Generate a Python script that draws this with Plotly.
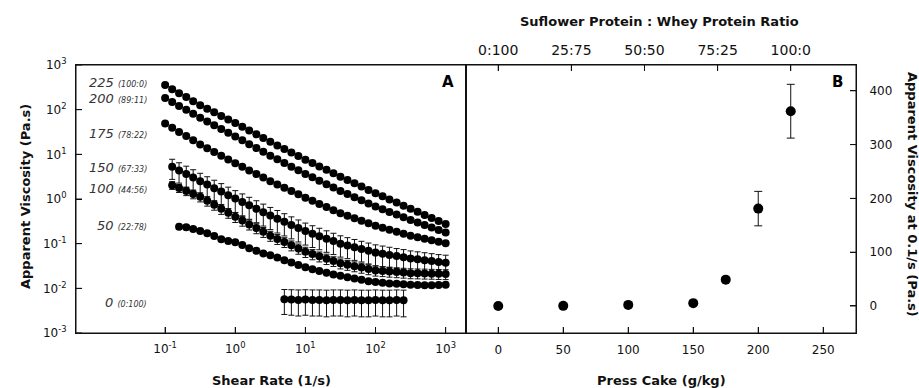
import plotly.graph_objects as go

# ---------------- data ----------------
shear_rate = [0.1, 0.126, 0.158, 0.2, 0.251, 0.316, 0.398, 0.501, 0.631, 0.794,
              1, 1.26, 1.58, 2, 2.51, 3.16, 3.98, 5.01, 6.31, 7.94,
              10, 12.6, 15.8, 20, 25.1, 31.6, 39.8, 50.1, 63.1, 79.4,
              100, 126, 158, 200, 251, 316, 398, 501, 631, 794, 1000]

visc_225 = [355, 288, 234, 191, 155, 126, 105, 87.1, 72.4, 60.3,
            50.1, 41.3, 34.0, 28.1, 23.1, 19.1, 15.8, 13.2, 11.0, 9.12,
            7.59, 6.37, 5.35, 4.49, 3.77, 3.16, 2.67, 2.25, 1.90, 1.60,
            1.35, 1.15, 0.977, 0.832, 0.708, 0.603, 0.515, 0.441, 0.377, 0.322, 0.275]
err_225 = [40, 32, 26, 21, 17, 14, 11, 9, 7.5, 6,
           5, 4.1, 3.4, 2.8, 2.3, 1.9, 1.6, 1.3, 1.1, 0.9,
           0.75, 0.64, 0.53, 0.45, 0.38, 0.32, 0.27, 0.22, 0.19, 0.16,
           0.13, 0.11, 0.1, 0.083, 0.071, 0.06, 0.051, 0.044, 0.038, 0.032, 0.028]

visc_200 = [182, 149, 121, 99.1, 80.9, 66.1, 54.5, 44.9, 37.0, 30.5,
            25.1, 20.6, 16.9, 13.9, 11.4, 9.33, 7.73, 6.40, 5.30, 4.39,
            3.63, 3.05, 2.56, 2.15, 1.80, 1.51, 1.29, 1.10, 0.933, 0.794,
            0.676, 0.589, 0.513, 0.447, 0.389, 0.339, 0.298, 0.262, 0.230, 0.202, 0.178]
err_200 = [18, 15, 12, 10, 8, 6.6, 5.4, 4.5, 3.7, 3.0,
           2.5, 2.1, 1.7, 1.4, 1.1, 0.93, 0.77, 0.64, 0.53, 0.44,
           0.36, 0.3, 0.26, 0.21, 0.18, 0.15, 0.13, 0.11, 0.093, 0.079,
           0.068, 0.059, 0.051, 0.045, 0.039, 0.034, 0.03, 0.026, 0.023, 0.02, 0.018]

visc_175 = [49.0, 39.4, 31.8, 25.6, 20.6, 16.6, 13.7, 11.3, 9.29, 7.66,
            6.31, 5.25, 4.37, 3.63, 3.02, 2.51, 2.12, 1.79, 1.51, 1.27,
            1.07, 0.912, 0.776, 0.661, 0.562, 0.479, 0.421, 0.370, 0.325, 0.286,
            0.251, 0.227, 0.205, 0.185, 0.167, 0.151, 0.140, 0.129, 0.120, 0.111, 0.102]

# starts at the 2nd shear rate
visc_150 = [5.25, 4.37, 3.63, 3.02, 2.51, 2.10, 1.75, 1.47, 1.22,
            1.02, 0.859, 0.721, 0.605, 0.508, 0.427, 0.363, 0.309, 0.263, 0.224,
            0.191, 0.167, 0.147, 0.129, 0.114, 0.100, 0.0912, 0.0832, 0.0759, 0.0692,
            0.0631, 0.0594, 0.0560, 0.0527, 0.0497, 0.0468, 0.0447, 0.0427, 0.0407, 0.0389, 0.0372]
err_150 = [2.5, 2.1, 1.8, 1.5, 1.25, 1.05, 0.88, 0.74, 0.62,
           0.52, 0.44, 0.37, 0.31, 0.26, 0.22, 0.19, 0.16, 0.135, 0.115,
           0.098, 0.085, 0.074, 0.065, 0.057, 0.050, 0.045, 0.041, 0.037, 0.034,
           0.031, 0.029, 0.027, 0.025, 0.024, 0.022, 0.021, 0.020, 0.019, 0.018, 0.018]

# starts at the 2nd shear rate
visc_100 = [2.04, 1.76, 1.51, 1.30, 1.12, 0.912, 0.741, 0.603, 0.490,
            0.398, 0.328, 0.270, 0.223, 0.184, 0.151, 0.128, 0.109, 0.0920, 0.0780,
            0.0661, 0.0586, 0.0520, 0.0461, 0.0409, 0.0363, 0.0337, 0.0313, 0.0291, 0.0270,
            0.0251, 0.0244, 0.0238, 0.0231, 0.0225, 0.0219, 0.0217, 0.0215, 0.0213, 0.0211, 0.0209]
err_100 = [0.40, 0.36, 0.32, 0.29, 0.26, 0.22, 0.18, 0.15, 0.12,
           0.10, 0.082, 0.068, 0.056, 0.046, 0.038, 0.032, 0.027, 0.023, 0.020,
           0.017, 0.015, 0.013, 0.012, 0.010, 0.0091, 0.0084, 0.0078, 0.0073, 0.0068,
           0.0063, 0.0061, 0.0060, 0.0058, 0.0056, 0.0055, 0.0054, 0.0054, 0.0053, 0.0053, 0.0052]

# starts at the 3rd shear rate
visc_50 = [0.240, 0.234, 0.214, 0.191, 0.170, 0.148, 0.126, 0.115,
           0.107, 0.0933, 0.0794, 0.0692, 0.0603, 0.0550, 0.0490, 0.0427, 0.0380, 0.0331,
           0.0295, 0.0269, 0.0245, 0.0224, 0.0204, 0.0191, 0.0178, 0.0166, 0.0155, 0.0145,
           0.0138, 0.0133, 0.0129, 0.0126, 0.0123, 0.0120, 0.0119, 0.0117, 0.0117, 0.0119, 0.0120]
err_50 = [0.030, 0.028, 0.022, 0.016, 0.010, 0.008, 0.006, 0.005,
          0.005, 0.004, 0.004, 0.003, 0.003, 0.003, 0.002, 0.002, 0.002, 0.002,
          0.002, 0.002, 0.001, 0.001, 0.001, 0.001, 0.001, 0.001, 0.001, 0.001,
          0.001, 0.001, 0.001, 0.001, 0.001, 0.001, 0.001, 0.001, 0.001, 0.001, 0.001]

# shear rates 5.01 .. 251
visc_0 = [0.0057, 0.0056, 0.0055, 0.0056, 0.0055, 0.0055, 0.0054, 0.0055, 0.0055,
          0.0054, 0.0055, 0.0054, 0.0054, 0.0055, 0.0054, 0.0054, 0.0055, 0.0054]
err_0_plus = [0.0037] * 18
err_0_minus = [0.0031] * 18

press_cake = [0, 50, 100, 150, 175, 200, 225]
visc_at_01 = [0.0, 0.25, 2.0, 5.3, 49, 181, 362]
err_at_01 = [0.0, 0.05, 0.5, 2.5, 4, 32, 50]

ratio_ticks = [0, 25, 50, 75, 100]
ratio_labels = ["0:100", "25:75", "50:50", "75:25", "100:0"]
cake_ticks = [0, 50, 100, 150, 200, 250]
visc01_ticks = [0, 100, 200, 300, 400]
log_x_ticks = [0.1, 1, 10, 100, 1000]
log_x_labels = ["10<sup>-1</sup>", "10<sup>0</sup>", "10<sup>1</sup>", "10<sup>2</sup>", "10<sup>3</sup>"]
log_y_ticks = [0.001, 0.01, 0.1, 1, 10, 100, 1000]
log_y_labels = ["10<sup>-3</sup>", "10<sup>-2</sup>", "10<sup>-1</sup>", "10<sup>0</sup>",
                "10<sup>1</sup>", "10<sup>2</sup>", "10<sup>3</sup>"]
series_cake = ["225", "200", "175", "150", "100", "50", "0"]
series_ratio = ["(100:0)", "(89:11)", "(78:22)", "(67:33)", "(44:56)", "(22:78)", "(0:100)"]

# ---------------- figure ----------------
FONT = "DejaVu Sans"
INK = "#111111"
TICK = 6
fig = go.Figure()

def add_left(x, y, err=None, errm=None):
    ey = dict(visible=False)
    if err is not None:
        ey = dict(type="data", array=err, color=INK, thickness=1, width=3, visible=True)
        if errm is not None:
            ey["arrayminus"] = errm
            ey["symmetric"] = False
    fig.add_trace(go.Scatter(x=x, y=y, mode="markers", xaxis="x", yaxis="y",
                             marker=dict(color="black", size=8, line=dict(width=0)),
                             error_y=ey, showlegend=False, hoverinfo="skip"))

add_left(shear_rate, visc_225, err_225)
add_left(shear_rate, visc_200, err_200)
add_left(shear_rate, visc_175)
add_left(shear_rate[1:], visc_150, err_150)
add_left(shear_rate[1:], visc_100, err_100)
add_left(shear_rate[2:], visc_50, err_50)
add_left(shear_rate[17:35], visc_0, err_0_plus, err_0_minus)

fig.add_trace(go.Scatter(x=press_cake, y=visc_at_01, mode="markers", xaxis="x2", yaxis="y2",
                         marker=dict(color="black", size=10, line=dict(width=0)),
                         error_y=dict(type="data", array=err_at_01, color=INK, thickness=1, width=4),
                         showlegend=False, hoverinfo="skip"))
# carrier for the top (ratio) axis: no visible marks
fig.add_trace(go.Scatter(x=ratio_ticks, y=[None] * len(ratio_ticks), mode="markers",
                         xaxis="x3", yaxis="y2", showlegend=False, hoverinfo="skip"))

L, M, R = 76 / 919, 466 / 919, 856 / 919
YB, YT = 1 - 333 / 388, 1 - 65 / 388
tickfont = dict(family=FONT, size=12, color=INK)
axis_common = dict(showline=True, linecolor=INK, linewidth=1, ticks="inside", ticklen=TICK,
                   tickcolor=INK, tickwidth=1, showgrid=False, zeroline=False, tickfont=tickfont,
                   layer="above traces")

fig.update_layout(
    width=919, height=388,
    margin=dict(l=0, r=0, t=0, b=0, autoexpand=False),
    paper_bgcolor="white", plot_bgcolor="rgba(0,0,0,0)",
    xaxis=dict(domain=[L, M], anchor="y", type="log", range=[-2.271, 3.29], mirror=True,
               tickvals=log_x_ticks, ticktext=log_x_labels, ticklabelstandoff=5, **axis_common),
    yaxis=dict(domain=[YB, YT], anchor="x", type="log", range=[-3, 3], mirror=True,
               tickvals=log_y_ticks, ticktext=log_y_labels, ticklabelstandoff=6, **axis_common),
    xaxis2=dict(domain=[M, R], anchor="y2", range=[-24.8, 275.2], mirror=True,
                tickvals=cake_ticks, ticklabelstandoff=6, **axis_common),
    yaxis2=dict(domain=[YB, YT], anchor="x2", side="right", range=[-50.2, 447.9], mirror=True,
                tickvals=visc01_ticks, ticklabelstandoff=10, **axis_common),
    xaxis3=dict(overlaying="x2", anchor="y2", side="top", range=[-11.02, 122.31],
                tickvals=ratio_ticks, ticktext=ratio_labels, ticklabelstandoff=6,
                showline=False, ticks="inside", ticklen=TICK, tickcolor=INK, tickwidth=1,
                showgrid=False, zeroline=False, layer="above traces",
                tickfont=dict(family=FONT, size=14, color=INK)),
)

# panel frames
for xr, yr in (("x domain", "y domain"), ("x2 domain", "y2 domain")):
    fig.add_shape(type="rect", xref=xr, yref=yr, x0=0, x1=1, y0=0, y1=1,
                  line=dict(color=INK, width=1), fillcolor="rgba(0,0,0,0)", layer="above")

# inward tick marks, placed at the axes' own tick values
tick_line = dict(color=INK, width=1)
def x_ticks(vals, xref, yref, at_top=False):
    for v in vals:
        fig.add_shape(type="line", xref=xref, yref=yref, x0=v, x1=v,
                      ysizemode="pixel", yanchor=1 if at_top else 0,
                      y0=0, y1=-TICK if at_top else TICK, line=tick_line, layer="above")

def y_ticks(vals, xref, yref, at_right=False):
    for v in vals:
        fig.add_shape(type="line", xref=xref, yref=yref, y0=v, y1=v,
                      xsizemode="pixel", xanchor=1 if at_right else 0,
                      x0=0, x1=-TICK if at_right else TICK, line=tick_line, layer="above")

x_ticks(log_x_ticks, "x", "y domain")
y_ticks(log_y_ticks, "x domain", "y")
x_ticks(cake_ticks, "x2", "y2 domain")
y_ticks(visc01_ticks, "x2 domain", "y2", at_right=True)
x_ticks(ratio_ticks, "x3", "y2 domain", at_top=True)

ann = []
title_font = dict(family=FONT, size=13, color=INK)
def add_ann(text, xpx, ypx, font, **kw):
    d = dict(text=text, x=xpx / 919, y=1 - ypx / 388, xref="paper", yref="paper",
             showarrow=False, font=font, xanchor="center", yanchor="middle")
    d.update(kw)
    ann.append(d)

add_ann("<b>Shear Rate (1/s)</b>", 271, 380, title_font)
add_ann("<b>Press Cake (g/kg)</b>", 661, 380, title_font)
add_ann("<b>Suflower Protein : Whey Protein Ratio</b>", 659, 21, title_font)
add_ann("<b>Apparent Viscosity (Pa.s)</b>", 25, 197, title_font, textangle=-90)
add_ann("<b>Apparent Viscosity at 0.1/s (Pa.s)</b>", 913, 194, title_font, textangle=90)
add_ann("<b>A</b>", 448, 82, dict(family=FONT, size=15, color="black"))
add_ann("<b>B</b>", 837, 82, dict(family=FONT, size=15, color="black"))

label_y_px = [82, 98, 133, 167, 188, 225, 302]
for cake, ratio, ypx in zip(series_cake, series_ratio, label_y_px):
    add_ann(f"<i>{cake}</i> <i><span style='font-size:8px'>{ratio}</span></i>", 149, ypx,
            dict(family=FONT, size=13, color="#333333"), xanchor="right")
fig.update_layout(annotations=ann)

fig.write_html("out.html", config={"displayModeBar": False},
               post_script="document.body.style.margin='0';document.body.style.overflow='hidden';")
